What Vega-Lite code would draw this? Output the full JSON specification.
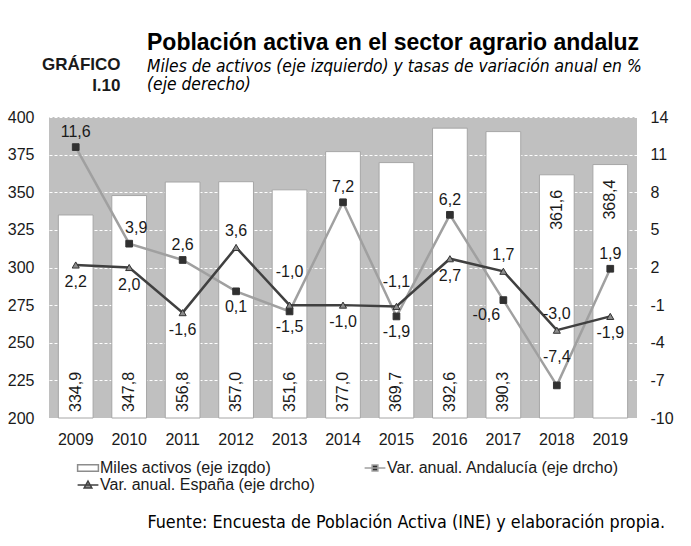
{
  "$schema": "https://vega.github.io/schema/vega-lite/v6.json",
  "width": 588,
  "height": 301,
  "autosize": {"type": "none"},
  "padding": {"left": 49, "top": 117, "right": 54, "bottom": 128},
  "background": "white",
  "title": {
    "text": "Población activa en el sector agrario andaluz",
    "subtitle": ["Miles de activos (eje izquierdo) y tasas de variación anual en %", "(eje derecho)"],
    "anchor": "start",
    "frame": "group",
    "dx": 98,
    "offset": -38,
    "font": "Liberation Sans",
    "fontSize": 23,
    "fontWeight": "bold",
    "color": "#000000",
    "subtitleFont": "DejaVu Sans Condensed, DejaVu Sans, sans-serif",
    "subtitleFontSize": 17.3,
    "subtitleFontStyle": "italic",
    "subtitleColor": "#000000",
    "subtitleLineHeight": 18,
    "subtitlePadding": 3
  },
  "datasets": {
    "activos": [
      {"year": 2009, "miles": 334.9},
      {"year": 2010, "miles": 347.8},
      {"year": 2011, "miles": 356.8},
      {"year": 2012, "miles": 357.0},
      {"year": 2013, "miles": 351.6},
      {"year": 2014, "miles": 377.0},
      {"year": 2015, "miles": 369.7},
      {"year": 2016, "miles": 392.6},
      {"year": 2017, "miles": 390.3},
      {"year": 2018, "miles": 361.6},
      {"year": 2019, "miles": 368.4}
    ],
    "variacion": [
      {"year": 2009, "serie": "Var. anual. Andalucía (eje drcho)", "value": 11.6},
      {"year": 2010, "serie": "Var. anual. Andalucía (eje drcho)", "value": 3.9},
      {"year": 2011, "serie": "Var. anual. Andalucía (eje drcho)", "value": 2.6},
      {"year": 2012, "serie": "Var. anual. Andalucía (eje drcho)", "value": 0.1},
      {"year": 2013, "serie": "Var. anual. Andalucía (eje drcho)", "value": -1.5},
      {"year": 2014, "serie": "Var. anual. Andalucía (eje drcho)", "value": 7.2},
      {"year": 2015, "serie": "Var. anual. Andalucía (eje drcho)", "value": -1.9},
      {"year": 2016, "serie": "Var. anual. Andalucía (eje drcho)", "value": 6.2},
      {"year": 2017, "serie": "Var. anual. Andalucía (eje drcho)", "value": -0.6},
      {"year": 2018, "serie": "Var. anual. Andalucía (eje drcho)", "value": -7.4},
      {"year": 2019, "serie": "Var. anual. Andalucía (eje drcho)", "value": 1.9},
      {"year": 2009, "serie": "Var. anual. España (eje drcho)", "value": 2.2},
      {"year": 2010, "serie": "Var. anual. España (eje drcho)", "value": 2.0},
      {"year": 2011, "serie": "Var. anual. España (eje drcho)", "value": -1.6},
      {"year": 2012, "serie": "Var. anual. España (eje drcho)", "value": 3.6},
      {"year": 2013, "serie": "Var. anual. España (eje drcho)", "value": -1.0},
      {"year": 2014, "serie": "Var. anual. España (eje drcho)", "value": -1.0},
      {"year": 2015, "serie": "Var. anual. España (eje drcho)", "value": -1.1},
      {"year": 2016, "serie": "Var. anual. España (eje drcho)", "value": 2.7},
      {"year": 2017, "serie": "Var. anual. España (eje drcho)", "value": 1.7},
      {"year": 2018, "serie": "Var. anual. España (eje drcho)", "value": -3.0},
      {"year": 2019, "serie": "Var. anual. España (eje drcho)", "value": -1.9}
    ]
  },
  "encoding": {
    "x": {
      "field": "year",
      "type": "ordinal",
      "scale": {"paddingInner": 0.35, "paddingOuter": 0.175},
      "title": "Fuente: Encuesta de Población Activa (INE) y elaboración propia.",
      "axis": {
        "labelAngle": 0,
        "labelPadding": 13,
        "titleX": 98,
        "titleY": 109,
        "titleAlign": "left",
        "titleAnchor": null,
        "titleBaseline": "alphabetic",
        "titleFont": "DejaVu Sans Condensed, DejaVu Sans, sans-serif",
        "titleFontSize": 17.8,
        "titleFontWeight": "normal",
        "titleColor": "#000000"
      }
    }
  },
  "layer": [
    {
      "data": {"name": "activos"},
      "encoding": {
        "y": {
          "field": "miles",
          "type": "quantitative",
          "scale": {"domain": [200, 400], "zero": false, "nice": false},
          "axis": {
            "orient": "left",
            "values": [200, 225, 250, 275, 300, 325, 350, 375, 400],
            "labelPadding": 15,
            "grid": true,
            "gridColor": "#ffffff",
            "gridDash": [3, 2],
            "gridWidth": 1,
            "title": ["GRÁFICO", "I.10"],
            "titleAngle": 0,
            "titleAlign": "right",
            "titleBaseline": "alphabetic",
            "titleX": 71,
            "titleY": -48,
            "titleFont": "Liberation Sans",
            "titleFontSize": 17,
            "titleFontWeight": "bold",
            "titleColor": "#1a1a1a",
            "titleLineHeight": 21
          }
        }
      },
      "layer": [
        {
          "mark": {"type": "bar", "fill": "#ffffff", "stroke": "#a6a6a6", "strokeWidth": 1},
          "encoding": {"y2": {"datum": 200}}
        },
        {
          "transform": [{"filter": "datum.year < 2018"}],
          "mark": {"type": "text", "angle": 270, "align": "left", "baseline": "middle", "dx": 6, "font": "Liberation Sans", "fontSize": 16, "color": "#1a1a1a"},
          "encoding": {
            "y": {"datum": 200},
            "text": {"field": "miles", "type": "quantitative", "format": ".1f"}
          }
        },
        {
          "transform": [{"filter": "datum.year >= 2018"}],
          "mark": {"type": "text", "angle": 270, "align": "right", "baseline": "middle", "dx": -15, "font": "Liberation Sans", "fontSize": 16, "color": "#1a1a1a"},
          "encoding": {
            "text": {"field": "miles", "type": "quantitative", "format": ".1f"}
          }
        }
      ]
    },
    {
      "data": {"name": "variacion"},
      "encoding": {
        "y": {
          "field": "value",
          "type": "quantitative",
          "scale": {"domain": [-10, 14], "zero": false, "nice": false},
          "axis": {
            "orient": "right",
            "values": [-10, -7, -4, -1, 2, 5, 8, 11, 14],
            "grid": false,
            "labelPadding": 13,
            "title": null
          }
        }
      },
      "layer": [
        {
          "transform": [{"filter": "indexof(datum.serie, 'Andaluc') >= 0"}],
          "mark": {"type": "line", "color": "#a0a0a0", "strokeWidth": 2.5},
          "encoding": {}
        },
        {
          "transform": [{"filter": "indexof(datum.serie, 'España') >= 0"}],
          "mark": {"type": "line", "color": "#404040", "strokeWidth": 2.5},
          "encoding": {}
        },
        {
          "transform": [{"filter": "indexof(datum.serie, 'Andaluc') >= 0"}],
          "mark": {"type": "point", "shape": "square", "filled": true, "fill": "#303030", "size": 45, "stroke": "#333333", "strokeWidth": 1, "opacity": 1},
          "encoding": {}
        },
        {
          "transform": [{"filter": "indexof(datum.serie, 'España') >= 0"}],
          "mark": {"type": "point", "shape": "triangle-up", "filled": true, "fill": "#8c8c8c", "size": 50, "stroke": "#333333", "strokeWidth": 1, "opacity": 1},
          "encoding": {}
        },
        {
          "mark": {"type": "point", "filled": true, "opacity": 0, "strokeWidth": 1.5},
          "encoding": {
            "shape": {
              "field": "serie",
              "type": "nominal",
              "title": null,
              "scale": {
                "domain": ["Miles activos (eje izqdo)", "Var. anual. Andalucía (eje drcho)", "Var. anual. España (eje drcho)"],
                "range": ["M-1.3,-0.42H1.3V0.42H-1.3Z", "M-1.3,0H1.3M-0.36,-0.36H0.36V0.36H-0.36Z", "M-1.3,0H1.3M0,-0.5L0.48,0.36H-0.48Z"]
              },
              "legend": {
                "orient": "none",
                "legendX": 30,
                "legendY": 342,
                "direction": "horizontal",
                "columns": 2,
                "columnPadding": 46,
                "rowPadding": -6,
                "padding": 0,
                "symbolSize": 256,
                "symbolOpacity": 1,
                "symbolStrokeWidth": 1.5,
                "labelFont": "Liberation Sans",
                "labelFontSize": 16,
                "labelColor": "#1a1a1a",
                "labelOffset": 3,
                "labelLimit": 400
              }
            },
            "fill": {
              "field": "serie",
              "type": "nominal",
              "title": null,
              "scale": {
                "domain": ["Miles activos (eje izqdo)", "Var. anual. Andalucía (eje drcho)", "Var. anual. España (eje drcho)"],
                "range": ["#ffffff", "#303030", "#8c8c8c"]
              }
            },
            "stroke": {
              "field": "serie",
              "type": "nominal",
              "title": null,
              "scale": {
                "domain": ["Miles activos (eje izqdo)", "Var. anual. Andalucía (eje drcho)", "Var. anual. España (eje drcho)"],
                "range": ["#8c8c8c", "#a0a0a0", "#404040"]
              }
            }
          }
        },
        {
          "transform": [{"filter": "indexof(datum.serie, 'Andaluc') >= 0 && indexof([2009, 2011, 2014, 2016, 2019], datum.year) >= 0"}],
          "mark": {"type": "text", "baseline": "middle", "dy": -15, "font": "Liberation Sans", "fontSize": 16, "color": "#1a1a1a"},
          "encoding": {"text": {"field": "value", "type": "quantitative", "format": ".1f"}}
        },
        {
          "transform": [{"filter": "indexof(datum.serie, 'Andaluc') >= 0 && datum.year == 2010"}],
          "mark": {"type": "text", "baseline": "middle", "dx": 7, "dy": -16, "font": "Liberation Sans", "fontSize": 16, "color": "#1a1a1a"},
          "encoding": {"text": {"field": "value", "type": "quantitative", "format": ".1f"}}
        },
        {
          "transform": [{"filter": "indexof(datum.serie, 'Andaluc') >= 0 && indexof([2012, 2013, 2015], datum.year) >= 0"}],
          "mark": {"type": "text", "baseline": "middle", "dy": 16, "font": "Liberation Sans", "fontSize": 16, "color": "#1a1a1a"},
          "encoding": {"text": {"field": "value", "type": "quantitative", "format": ".1f"}}
        },
        {
          "transform": [{"filter": "indexof(datum.serie, 'Andaluc') >= 0 && datum.year == 2017"}],
          "mark": {"type": "text", "baseline": "middle", "dx": -17, "dy": 15, "font": "Liberation Sans", "fontSize": 16, "color": "#1a1a1a"},
          "encoding": {"text": {"field": "value", "type": "quantitative", "format": ".1f"}}
        },
        {
          "transform": [{"filter": "indexof(datum.serie, 'Andaluc') >= 0 && datum.year == 2018"}],
          "mark": {"type": "text", "baseline": "middle", "dy": -28, "font": "Liberation Sans", "fontSize": 16, "color": "#1a1a1a"},
          "encoding": {"text": {"field": "value", "type": "quantitative", "format": ".1f"}}
        },
        {
          "transform": [{"filter": "indexof(datum.serie, 'España') >= 0 && indexof([2009, 2010, 2011, 2014, 2016, 2019], datum.year) >= 0"}],
          "mark": {"type": "text", "baseline": "middle", "dy": 17, "font": "Liberation Sans", "fontSize": 16, "color": "#1a1a1a"},
          "encoding": {"text": {"field": "value", "type": "quantitative", "format": ".1f"}}
        },
        {
          "transform": [{"filter": "indexof(datum.serie, 'España') >= 0 && indexof([2012, 2017, 2018], datum.year) >= 0"}],
          "mark": {"type": "text", "baseline": "middle", "dy": -16, "font": "Liberation Sans", "fontSize": 16, "color": "#1a1a1a"},
          "encoding": {"text": {"field": "value", "type": "quantitative", "format": ".1f"}}
        },
        {
          "transform": [{"filter": "indexof(datum.serie, 'España') >= 0 && datum.year == 2013"}],
          "mark": {"type": "text", "baseline": "middle", "dy": -33, "font": "Liberation Sans", "fontSize": 16, "color": "#1a1a1a"},
          "encoding": {"text": {"field": "value", "type": "quantitative", "format": ".1f"}}
        },
        {
          "transform": [{"filter": "indexof(datum.serie, 'España') >= 0 && datum.year == 2015"}],
          "mark": {"type": "text", "baseline": "middle", "dy": -24, "font": "Liberation Sans", "fontSize": 16, "color": "#1a1a1a"},
          "encoding": {"text": {"field": "value", "type": "quantitative", "format": ".1f"}}
        }
      ]
    }
  ],
  "resolve": {"scale": {"y": "independent"}, "axis": {"y": "independent"}},
  "config": {
    "view": {"fill": "#c0c0c0", "stroke": null},
    "locale": {"number": {"decimal": ",", "thousands": ".", "grouping": [3], "currency": ["", " €"], "minus": "-"}},
    "axis": {"labelFont": "Liberation Sans", "labelFontSize": 16, "labelColor": "#1a1a1a", "ticks": false, "domain": false},
    "font": "Liberation Sans"
  }
}
